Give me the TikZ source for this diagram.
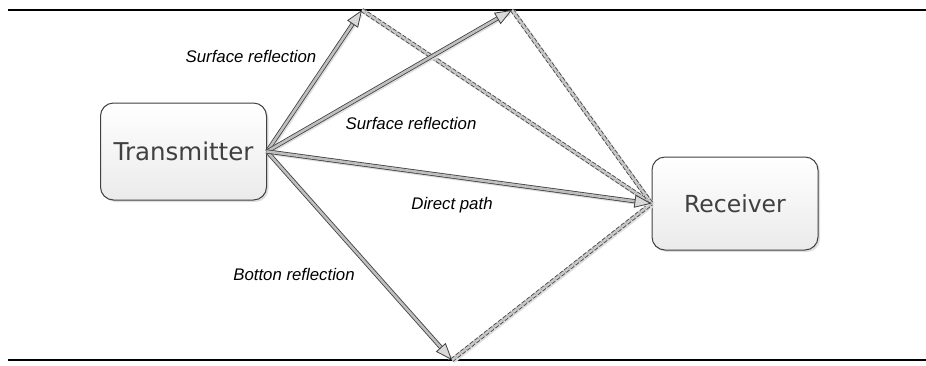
\documentclass[tikz,border=0pt]{standalone}
\usepackage{fontspec}
\setmainfont{Liberation Sans}
\newfontfamily\boxfont{DejaVu Sans}
\usetikzlibrary{arrows.meta,calc,shadows}
\begin{document}
\begin{tikzpicture}[x=1pt,y=-1pt,
  boxstyle/.style={draw=black!75, line width=1pt, rounded corners=13pt,
    top color=white, bottom color=black!8,
    drop shadow={opacity=0.25, shadow xshift=2pt, shadow yshift=-2pt},
    text=black!75, inner sep=0pt},
  bigtext/.style={font=\boxfont\fontsize{24.5pt}{29pt}\selectfont},
  midtext/.style={font=\boxfont\fontsize{23.5pt}{28pt}\selectfont},
  lbl/.style={font=\itshape\fontsize{16.8pt}{20pt}\selectfont, text=black},
  shadowline/.style={draw=black!12, line width=4.5pt, transform canvas={shift={(1.2pt,-1.2pt)}}},
  shaftline/.style={draw=black!75, line width=0.8pt, double=black!25, double distance=2.6pt},
  headtip/.style={line width=0.8pt, draw=black!75,
    -{Triangle[length=17pt, width=13pt, fill=black!15]}},
  dashback/.style={draw=black!20, line width=4pt},
  dashline/.style={draw=black!70, line width=0.9pt, dash pattern=on 4pt off 2pt,
    double=black!20, double distance=2.4pt},
  surface/.style={line width=2.6pt, draw=black}
]
\useasboundingbox (0,0) rectangle (926,365);

% surfaces
\coordinate (tl) at (8,10);
\coordinate (tr) at (926,10);
\coordinate (bl) at (8,360);
\coordinate (br) at (926,360);
\draw[surface] (tl) -- (tr);
\draw[surface] (bl) -- (br);

% boxes
\node[boxstyle, bigtext, minimum width=166pt, minimum height=97pt] (tx) at (183.5,151.5) {Transmitter};
\node[boxstyle, midtext, minimum width=166pt, minimum height=93pt] (rx) at (735,203.5) {Receiver};

% reflection points
\coordinate (s1) at (362,10);
\coordinate (s2) at (512,10);
\coordinate (b1) at (452,360);

% dashed reflected paths
\foreach \p in {s1,s2,b1}{
  \draw[shadowline] (\p) -- (rx.west);
}
\foreach \p in {s1,s2,b1}{
  \draw[dashback] (\p) -- (rx.west);
  \draw[dashline] (\p) -- (rx.west);
}

% solid arrows
\foreach \p in {s1,s2,b1,rx.west}{
  \draw[shadowline] (tx.east) -- ($(\p)!4pt!(tx.east)$);
}
\foreach \p in {s1,s2,b1,rx.west}{
  \draw[shaftline] (tx.east) -- ($(\p)!15pt!(tx.east)$);
  \draw[headtip] ($(\p)!17pt!(tx.east)$) -- (\p);
}

% labels
\node[lbl] (l1) at (251,56) {Surface reflection};
\node[lbl] (l2) at (411,123) {Surface reflection};
\node[lbl] (l3) at (452,205) {Direct path};
\node[lbl] (l4) at (294,274) {Botton reflection};
\end{tikzpicture}
\end{document}
